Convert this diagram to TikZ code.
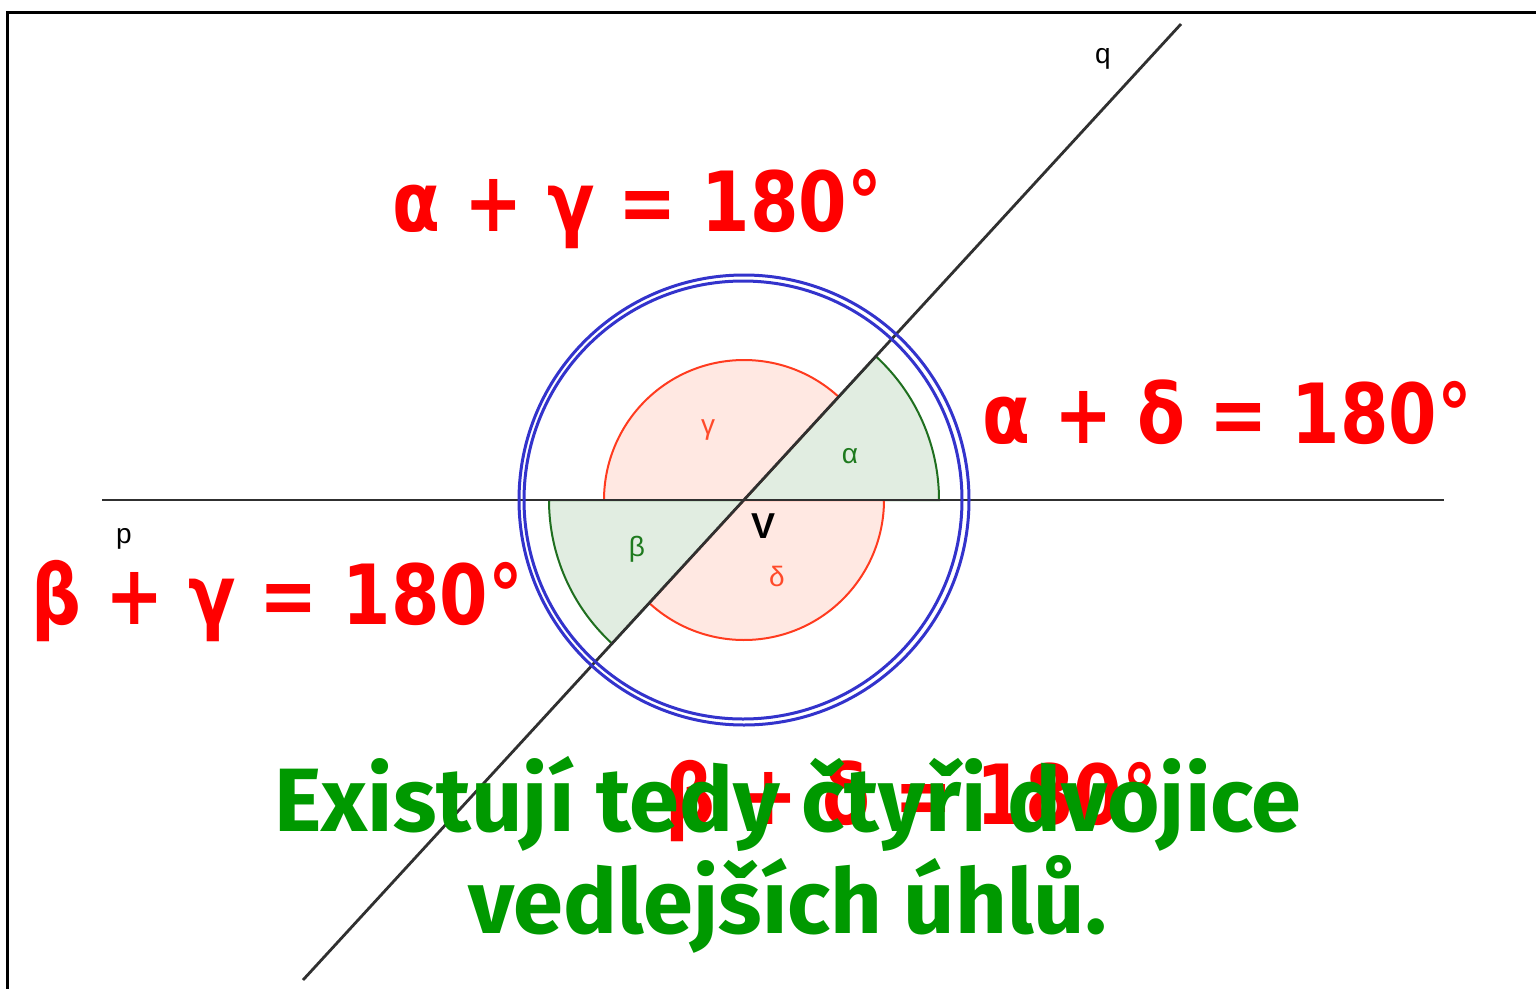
\documentclass[tikz,border=0pt]{standalone}
\usepackage{fontspec}
\newfontfamily\eqfont{DejaVu Sans}[FakeStretch=0.84]
\newfontfamily\grfont{Fira Sans}
\newfontfamily\lblfont{Liberation Sans}
\definecolor{eqred}{HTML}{FF0000}
\definecolor{txgreen}{HTML}{009900}
\definecolor{secgreenfill}{HTML}{E1EDE1}
\definecolor{secgreen}{HTML}{1F6F1F}
\definecolor{secredfill}{HTML}{FFE8E2}
\definecolor{secred}{HTML}{FF3B1F}
\definecolor{lblred}{HTML}{FF4A2A}
\definecolor{lblgreen}{HTML}{1E7A1E}
\definecolor{circblue}{HTML}{3333CC}
\definecolor{linegray}{HTML}{303030}
\tikzset{
  eq/.style={inner sep=0pt, anchor=base west, text=eqred, font=\eqfont\bfseries\fontsize{83}{83}\selectfont},
  grtext/.style={inner sep=0pt, anchor=base west, text=txgreen, font=\grfont\bfseries\fontsize{90}{90}\selectfont},
  small/.style={inner sep=0pt, font=\lblfont\fontsize{28}{28}\selectfont},
  geoline/.style={draw=linegray, line width=2.8pt},
  greensec/.style={fill=secgreenfill, draw=secgreen, line width=2pt},
  redsec/.style={fill=secredfill, draw=secred, line width=2pt},
  bluecirc/.style={draw=circblue, line width=3pt},
}
\begin{document}
\begin{tikzpicture}[x=1pt, y=-1pt]
\useasboundingbox (0,0) rectangle (1536,988);
\fill[white] (0,0) rectangle (1536,988);
% frame
\draw[line width=3pt, line cap=rect] (7,988) -- (7,12) -- (1536,12);
% vertex
\coordinate (V) at (744,500);
% sectors (explicit pt units are in canvas orientation: angles counterclockwise, y up)
\path[greensec] (V) -- ++(0:195pt) arc[start angle=0, end angle=47.43, radius=195pt] -- cycle;
\path[redsec] (V) -- ++(47.43:140pt) arc[start angle=47.43, end angle=180, radius=140pt] -- cycle;
\path[greensec] (V) -- ++(180:195pt) arc[start angle=180, end angle=227.43, radius=195pt] -- cycle;
\path[redsec] (V) -- ++(227.43:140pt) arc[start angle=227.43, end angle=360, radius=140pt] -- cycle;
% lines
\coordinate (p1) at (102,500);
\coordinate (p2) at (1444,500);
\coordinate (q1) at (303,980);
\coordinate (q2) at (1181,24);
\draw[geoline] (p1) -- (p2);
\draw[geoline] (q1) -- (q2);
% blue double circle
\draw[bluecirc] (744,500) circle[radius=225pt];
\draw[bluecirc] (743,500) circle[radius=219pt];
% small labels
\node[small, text=lblred] (lg) at (708,430) {γ};
\node[small, text=lblgreen] (la) at (850,456) {α};
\node[small, text=lblgreen] (lb) at (637,549) {β};
\node[small, text=lblred] (ld) at (777,576) {δ};
\node[small, font=\lblfont\bfseries\fontsize{36}{36}\selectfont] (lV) at (763,526) {V};
\node[small, anchor=base] (lp) at (124,543) {p};
\node[small, anchor=base] (lq) at (1103,63) {q};
% equations
\node[eq] (e1) at (392,231) {α + γ = 180°};
\node[eq] (e2) at (982,443) {α + δ = 180°};
\node[eq] (e3) at (31,624) {β + γ = 180°};
\node[eq] (e4) at (665,824) {β + δ = 180°};
% green text
\node[grtext] (g1) at (274,831) {Existují tedy čtyři dvojice};
\node[grtext] (g2) at (468,933) {vedlejších úhlů.};
\end{tikzpicture}
\end{document}
